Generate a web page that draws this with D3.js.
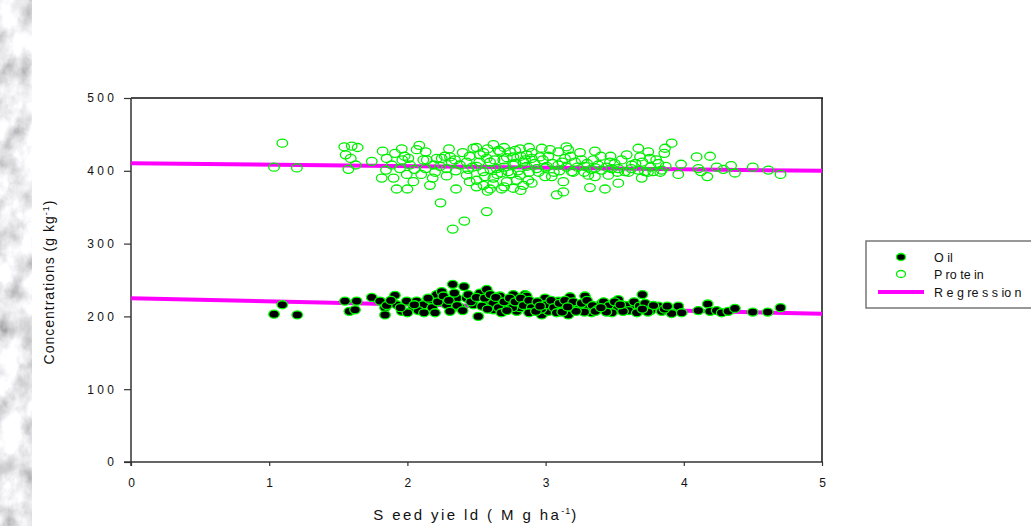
<!DOCTYPE html>
<html>
<head>
<meta charset="utf-8">
<script src="https://cdn.jsdelivr.net/npm/d3@7"></script>
<style>
  html, body { margin: 0; padding: 0; background: #fff; }
  svg { display: block; font-family: "Liberation Sans", Arial, sans-serif; }
</style>
</head>
<body>
<svg id="chart" width="1031" height="526"></svg>
<script>
// Protein concentration (g/kg) vs seed yield (Mg/ha)
const proteinPoints = [
  [1.095,438],[1.035,405],[1.20,404],[1.543,433],[1.597,434],[1.640,432],[1.553,422],[1.59,417],
  [1.626,408],[1.573,402],[1.742,413],[1.821,427],[1.814,390],[1.845,401],[1.85,417],[1.886,408],
  [1.91,424],[1.922,375],[1.946,403],[1.959,430],[1.963,415],[1.995,395],[2.00,375],[2.007,417],
  [2.019,408],[2.043,385],[2.067,429],[2.086,435],[2.115,415],[2.132,426],[2.14,415],[2.132,403],
  [2.163,380],[2.183,390],[2.188,408],[2.212,417],[2.236,406],[2.24,356],[2.248,417],[2.284,393],
  [2.284,403],[2.301,430],[2.308,419],[2.328,320],[2.344,415],[2.352,375],[2.38,408],[2.412,331],
  [2.429,394],[2.429,412],[2.477,431],[2.501,406],[2.501,387],[2.525,422],[2.549,399],[2.574,344],
  [2.574,417],[2.598,375],[2.598,412],[2.622,436],[2.622,390],[2.646,403],[2.67,426],[2.682,375],
  [2.694,415],[2.719,385],[2.73,399],[2.742,426],[2.766,376],[2.766,408],[2.766,419],[2.791,387],
  [2.815,430],[2.815,394],[2.839,380],[2.851,415],[2.863,422],[2.863,406],[2.875,387],[2.899,417],
  [2.936,403],[2.959,419],[2.972,431],[2.996,392],[3.008,406],[3.032,429],[3.044,392],[3.08,367],
  [3.092,426],[3.092,408],[3.128,385],[3.128,371],[3.14,417],[3.164,429],[3.189,399],[3.213,412],
  [3.249,425],[3.285,406],[3.309,394],[3.321,377],[3.345,415],[3.357,427],[3.357,392],[3.406,401],
  [3.43,375],[3.454,394],[3.466,412],[3.478,403],[3.526,383],[3.526,403],[3.574,399],[3.587,422],
  [3.623,408],[3.671,431],[3.671,401],[3.683,419],[3.695,390],[3.719,399],[3.743,426],[3.755,417],
  [3.779,399],[3.816,410],[3.84,401],[3.859,424],[3.864,431],[3.869,406],[3.912,438],[3.96,395],
  [3.98,409],[4.093,419],[4.105,403],[4.124,399],[4.17,392],[4.19,420],[4.238,405],[4.286,402],
  [4.342,407],[4.37,397],[4.499,405],[4.612,401],[4.70,395],
  [2.45,420],[2.47,405],[2.52,412],[2.55,425],[2.56,392],[2.60,402],[2.63,415],[2.65,395],
  [2.66,428],[2.70,405],[2.72,418],[2.75,396],[2.78,410],[2.80,400],[2.82,420],[2.84,412],
  [2.88,398],[2.90,425],[2.92,410],[2.95,398],[2.98,415],[3.00,404],[3.02,420],[3.05,410],
  [3.06,398],[3.10,400],[3.12,412],[3.15,405],[3.18,420],[3.20,398],[3.23,405],[3.26,415],
  [3.30,410],[3.33,402],[3.38,408],[3.40,420],[3.44,405],[3.50,410],[3.55,415],[3.60,398],
  [3.65,410],[3.70,412],[3.76,405],[3.80,415],[3.83,398],[2.35,400],[2.40,425],[2.32,412],
  [2.27,420],[2.20,398],[2.10,395],[2.05,402],[1.98,420],[1.90,390],
  [2.58,430],[2.70,432],[2.88,432],[3.15,433],[2.50,432],[2.78,428],
  [2.55,380],[2.62,382],[2.70,378],[2.50,378],[2.90,383],[2.45,385],[2.58,372],[2.82,373],
  [3.36,404],[3.52,398],[3.62,403],[3.74,398],[3.47,420],[3.28,398],[2.44,402],[2.68,397]
];

// Oil concentration (g/kg) vs seed yield (Mg/ha)
const oilPoints = [
  [1.095,216],[1.035,203],[1.203,202],[1.548,221],[1.58,207],[1.621,209],[1.633,221],[1.742,226],
  [1.802,221],[1.838,212],[1.838,202],[1.91,229],[1.922,216],[1.959,207],[1.995,221],[2.043,212],
  [2.067,221],[2.115,216],[2.163,223],[2.212,230],[2.248,234],[2.284,216],[2.308,207],[2.328,244],
  [2.357,225],[2.38,212],[2.41,241],[2.429,225],[2.477,216],[2.513,200],[2.525,232],[2.574,237],
  [2.598,221],[2.622,209],[2.67,228],[2.719,216],[2.766,230],[2.791,207],[2.815,212],[2.851,230],
  [2.863,228],[2.887,209],[2.923,218],[2.972,202],[2.996,225],[3.02,207],[3.092,221],[3.116,209],
  [3.164,202],[3.177,227],[3.213,212],[3.285,228],[3.309,214],[3.333,205],[3.406,218],[3.454,209],
  [3.526,223],[3.55,212],[3.623,216],[3.671,207],[3.70,230],[3.743,211],[3.816,214],[3.84,207],
  [3.912,204],[3.96,214],[3.985,205],[4.105,208],[4.173,217],[4.19,207],[4.238,208],[4.274,205],
  [4.322,207],[4.37,211],[4.499,206],[4.607,206],[4.70,212],
  [2.00,205],[2.08,208],[2.15,225],[2.18,212],[2.22,220],[2.26,228],[2.30,222],[2.34,232],
  [2.36,215],[2.40,208],[2.44,230],[2.46,220],[2.50,226],[2.54,214],[2.56,225],[2.60,230],
  [2.62,218],[2.64,226],[2.66,212],[2.70,220],[2.74,225],[2.76,212],[2.78,220],[2.82,225],
  [2.84,215],[2.88,222],[2.90,212],[2.94,220],[2.97,210],[3.00,216],[3.04,222],[3.06,212],
  [3.10,218],[3.14,222],[3.18,214],[3.20,220],[3.24,210],[3.26,218],[3.30,222],[3.34,215],
  [3.38,210],[3.42,220],[3.46,215],[3.50,220],[3.52,210],[3.58,215],[3.60,208],[3.64,220],
  [3.68,214],[3.72,218],[3.76,208],[3.78,215],[3.86,210],[3.88,214],[2.58,210],[2.68,205],
  [2.72,208],[2.88,205],[3.08,205],[3.28,206],[3.48,205],[3.66,205],[2.20,205],[1.85,215],
  [1.95,212],[2.05,216],[2.12,205],[1.88,222],
  [2.93,207],[3.12,206],[3.22,207],[3.36,207],[3.44,206],[3.56,207],[3.74,206],[3.40,212],
  [3.16,213],[2.96,214],[3.54,216],[3.70,210]
];

// Fitted regression lines, endpoints at x = 0 and x = 5
const proteinFit = [[0, 410.5], [5, 400]];
const oilFit = [[0, 225], [5, 203.5]];

const xTicks = [0, 1, 2, 3, 4, 5];
const yTicks = [0, 100, 200, 300, 400, 500];
const legendLabels = ["O il", "P ro te in", "R e g re s s io n"];

const svg = d3.select("#chart");
const plot = { left: 131, right: 822, top: 98, bottom: 462 };

const x = d3.scaleLinear().domain([0, 5]).range([plot.left, plot.right]);
const y = d3.scaleLinear().domain([0, 500]).range([plot.bottom, plot.top]);

// Marbled grey strip along the left edge
const defs = svg.append("defs");
const marble = defs.append("filter").attr("id", "marble")
  .attr("x", 0).attr("y", 0).attr("width", "100%").attr("height", "100%");
marble.append("feTurbulence").attr("type", "fractalNoise")
  .attr("baseFrequency", "0.045 0.035").attr("numOctaves", 5).attr("seed", 11);
marble.append("feColorMatrix").attr("type", "matrix")
  .attr("values", "0.8 0.8 0 0 0.02  0.8 0.8 0 0 0.02  0.8 0.8 0 0 0.04  0 0 0 0 1");
svg.append("rect").attr("x", 0).attr("y", 0).attr("width", 32).attr("height", 526)
  .attr("filter", "url(#marble)");

// Frame: top and right edges
svg.append("line").attr("x1", plot.left).attr("x2", plot.right + 1)
  .attr("y1", plot.top).attr("y2", plot.top)
  .attr("stroke", "#111").attr("stroke-width", 1.5);
svg.append("line").attr("x1", plot.right).attr("x2", plot.right)
  .attr("y1", plot.top).attr("y2", plot.bottom)
  .attr("stroke", "#111").attr("stroke-width", 1.5);

// Y axis
const yAxis = svg.append("g").attr("transform", `translate(${plot.left},0)`)
  .call(d3.axisLeft(y).tickValues(yTicks).tickSize(7).tickPadding(10)
    .tickFormat(d => String(d).split("").join(" ")));
yAxis.select(".domain").attr("d", `M0,${plot.top}V${plot.bottom + 4}`)
  .attr("stroke", "#333").attr("stroke-width", 1.5);
yAxis.selectAll(".tick line").attr("stroke", "#333").attr("stroke-width", 1.2);
yAxis.selectAll(".tick text").attr("font-size", 12).attr("fill", "#111")
  .attr("font-family", "Liberation Sans, Arial, sans-serif");

// X axis
const xAxis = svg.append("g").attr("transform", `translate(0,${plot.bottom})`)
  .call(d3.axisBottom(x).tickValues(xTicks).tickSize(4).tickPadding(12)
    .tickFormat(d3.format("d")));
xAxis.select(".domain").attr("d", `M${plot.left - 7},0H${plot.right + 1}`)
  .attr("stroke", "#333").attr("stroke-width", 1.5);
xAxis.selectAll(".tick line").attr("stroke", "#333").attr("stroke-width", 1.2);
xAxis.selectAll(".tick text").attr("font-size", 12).attr("fill", "#111")
  .attr("font-family", "Liberation Sans, Arial, sans-serif");

// Axis titles
const yTitle = svg.append("text")
  .attr("transform", `translate(54,${(plot.top + plot.bottom) / 2 + 2}) rotate(-90)`)
  .attr("text-anchor", "middle").attr("font-size", 14).attr("letter-spacing", 1)
  .attr("fill", "#111");
yTitle.append("tspan").text("Concentrations (g kg");
yTitle.append("tspan").attr("dy", -5).attr("font-size", 9).text("-1");
yTitle.append("tspan").attr("dy", 5).text(")");

const xTitle = svg.append("text")
  .attr("x", 476).attr("y", 520).attr("text-anchor", "middle")
  .attr("font-size", 15).attr("fill", "#111").attr("letter-spacing", 2.4);
xTitle.append("tspan").text("S eed yie ld ( M g ha");
xTitle.append("tspan").attr("dy", -6).attr("font-size", 9).attr("letter-spacing", 1).text("-1");
xTitle.append("tspan").attr("dy", 6).text(")");

// Regression lines
const fitLine = d3.line().x(d => x(d[0])).y(d => y(d[1]));
[proteinFit, oilFit].forEach(fit => {
  svg.append("path").attr("d", fitLine(fit))
    .attr("fill", "none").attr("stroke", "#ff00ff").attr("stroke-width", 4);
});

// Scatter markers
svg.append("g").selectAll("ellipse").data(oilPoints).join("ellipse")
  .attr("cx", d => x(d[0])).attr("cy", d => y(d[1]))
  .attr("rx", 5.3).attr("ry", 4)
  .attr("fill", "#000").attr("stroke", "#00ff00").attr("stroke-width", 1.3);

svg.append("g").selectAll("ellipse").data(proteinPoints).join("ellipse")
  .attr("cx", d => x(d[0])).attr("cy", d => y(d[1]))
  .attr("rx", 5.3).attr("ry", 4)
  .attr("fill", "none").attr("stroke", "#00ee00").attr("stroke-width", 1.3);

// Legend
const lg = svg.append("g");
lg.append("path").attr("d", "M1040,241H866V308H1040")
  .attr("fill", "none").attr("stroke", "#777").attr("stroke-width", 1.5);
lg.append("ellipse").attr("cx", 901).attr("cy", 257).attr("rx", 4.5).attr("ry", 3.5)
  .attr("fill", "#000").attr("stroke", "#00ff00").attr("stroke-width", 1.3);
lg.append("ellipse").attr("cx", 901).attr("cy", 274).attr("rx", 4.5).attr("ry", 3.5)
  .attr("fill", "none").attr("stroke", "#00ee00").attr("stroke-width", 1.3);
lg.append("line").attr("x1", 878).attr("x2", 924).attr("y1", 292).attr("y2", 292)
  .attr("stroke", "#ff00ff").attr("stroke-width", 4);
lg.selectAll("text.lab").data(legendLabels).join("text").attr("class", "lab")
  .attr("x", 934).attr("y", (d, i) => 261.5 + i * 17.5)
  .attr("font-size", 12.5).attr("fill", "#111")
  .text(d => d);
</script>
</body>
</html>
